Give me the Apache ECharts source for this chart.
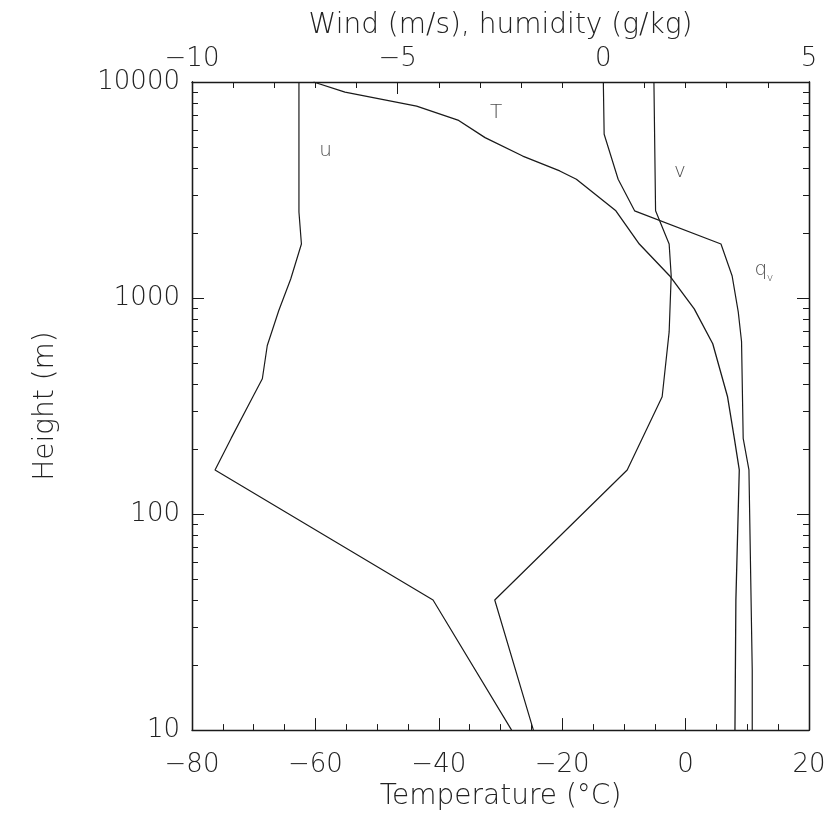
<!DOCTYPE html>
<html><head><meta charset="utf-8">
<script src="https://cdn.jsdelivr.net/npm/echarts@6/dist/echarts.min.js"></script>
<style>html,body{margin:0;padding:0;background:#fff}#c{width:831px;height:816px}</style>
</head><body><div id="c"></div>
<script>
// Temperature profile (bottom axis, °C)
const heightsT = [10000, 8970, 7730, 6665, 5525, 4543, 3874, 3548, 2533, 1778, 1269, 891, 614, 349, 224, 160, 40, 10];
const temperature = [-60.3, -55.2, -43.6, -36.9, -32.5, -26.4, -20.4, -17.7, -11.3, -7.5, -2.6, 1.4, 4.4, 6.8, 7.9, 8.7, 8.15, 8.0];
// Wind u (top axis, m/s)
const heightsU = [10000, 2500, 1778, 1225, 875, 603, 423, 349, 224, 160, 40, 10];
const windU = [-7.40, -7.40, -7.34, -7.60, -7.89, -8.17, -8.29, -8.52, -9.05, -9.44, -4.14, -2.23];
// Wind v (top axis, m/s)
const heightsV = [10000, 2533, 1778, 1269, 697, 349, 160, 40, 10];
const windV = [1.23, 1.27, 1.60, 1.65, 1.60, 1.43, 0.58, -2.64, -1.70];
// Humidity q_v (top axis, g/kg)
const heightsQ = [10000, 5728, 3548, 2533, 1778, 1269, 863, 629, 224, 160, 19, 10];
const humidityQ = [0.0, 0.02, 0.36, 0.76, 2.86, 3.13, 3.28, 3.36, 3.40, 3.54, 3.62, 3.62];

// Axis ticks
const yMajorTicks = [10, 100, 1000, 10000];
const yMinorTicks = [20,30,40,50,60,70,80,90,200,300,400,500,600,700,800,900,2000,3000,4000,5000,6000,7000,8000,9000];

// Curve labels [x, height, text]
const labelsTop = [[-6.75, 4795, 'u'], [1.86, 3822, 'v'], [3.83, 1353, 'q']];
const labelsTopSub = [[4.05, 1240, 'v']];
const labelsBottom = [[-30.7, 7210, 'T']];

const FONT = 'DejaVu Sans';
const TXT = '#222';
const LINE = '#1a1a1a';
const minus = v => (v < 0 ? '\u2212' + Math.abs(v) : String(v));
const pairs = (xs, ys) => xs.map((x, i) => [x, ys[i]]);

const yBase = {
  type: 'log', logBase: 10, min: 10, max: 10000,
  splitLine: { show: false },
  axisLine: { show: true, onZero: false, lineStyle: { color: LINE, width: 1.3 } }
};
const chart = echarts.init(document.getElementById('c'), null, { renderer: 'canvas' });
chart.setOption({
  backgroundColor: '#fff',
  animation: false,
  grid: { left: 192, right: 22, top: 82, bottom: 84 },
  xAxis: [
    {
      type: 'value', position: 'bottom', min: -80, max: 20, interval: 20,
      splitLine: { show: false },
      axisLine: { show: true, onZero: false, lineStyle: { color: LINE, width: 1.3 } },
      axisTick: { inside: true, length: 12, lineStyle: { color: LINE } },
      minorTick: { show: true, splitNumber: 4, length: 6, lineStyle: { color: LINE } },
      axisLabel: { formatter: minus, fontFamily: FONT, fontWeight: 200, fontSize: 26, color: TXT, margin: 22 },
      name: 'Temperature (°C)', nameLocation: 'middle', nameGap: 50,
      nameTextStyle: { fontFamily: FONT, fontWeight: 200, fontSize: 28, color: TXT }
    },
    {
      type: 'value', position: 'top', min: -10, max: 5, interval: 5,
      splitLine: { show: false },
      axisLine: { show: true, onZero: false, lineStyle: { color: LINE, width: 1.3 } },
      axisTick: { inside: true, length: 12, lineStyle: { color: LINE } },
      minorTick: { show: true, splitNumber: 5, length: 6, lineStyle: { color: LINE } },
      axisLabel: { formatter: minus, fontFamily: FONT, fontWeight: 200, fontSize: 26, color: TXT, margin: 10 },
      name: 'Wind (m/s), humidity (g/kg)', nameLocation: 'middle', nameGap: 42,
      nameTextStyle: { fontFamily: FONT, fontWeight: 200, fontSize: 28, color: TXT }
    }
  ],
  yAxis: [
    Object.assign({}, yBase, {
      position: 'left',
      axisTick: { inside: true, length: 12, customValues: yMajorTicks, lineStyle: { color: LINE } },
      axisLabel: { customValues: yMajorTicks, formatter: v => String(Math.round(v)), fontFamily: FONT, fontWeight: 200, fontSize: 26, color: TXT, margin: 12 },
      name: 'Height (m)', nameLocation: 'middle', nameGap: 132, nameRotate: 90,
      nameTextStyle: { fontFamily: FONT, fontWeight: 200, fontSize: 28, color: TXT }
    }),
    Object.assign({}, yBase, {
      position: 'left',
      axisTick: { inside: true, length: 6, customValues: yMinorTicks, lineStyle: { color: LINE } },
      axisLabel: { show: false }
    }),
    Object.assign({}, yBase, {
      position: 'right',
      axisTick: { inside: true, length: 12, customValues: yMajorTicks, lineStyle: { color: LINE } },
      axisLabel: { show: false }
    }),
    Object.assign({}, yBase, {
      position: 'right',
      axisTick: { inside: true, length: 6, customValues: yMinorTicks, lineStyle: { color: LINE } },
      axisLabel: { show: false }
    })
  ],
  series: [
    { name: 'T', type: 'line', xAxisIndex: 0, yAxisIndex: 0, data: pairs(temperature, heightsT), showSymbol: false, lineStyle: { color: LINE, width: 1.3 } },
    { name: 'u', type: 'line', xAxisIndex: 1, yAxisIndex: 0, data: pairs(windU, heightsU), showSymbol: false, lineStyle: { color: LINE, width: 1.2 } },
    { name: 'v', type: 'line', xAxisIndex: 1, yAxisIndex: 0, data: pairs(windV, heightsV), showSymbol: false, lineStyle: { color: LINE, width: 1.2 } },
    { name: 'q_v', type: 'line', xAxisIndex: 1, yAxisIndex: 0, data: pairs(humidityQ, heightsQ), showSymbol: false, lineStyle: { color: LINE, width: 1.2 } },
    { type: 'scatter', xAxisIndex: 1, yAxisIndex: 0, symbolSize: 0, silent: true,
      data: labelsTop.map(d => ({ value: [d[0], d[1]], name: d[2] })),
      label: { show: true, position: 'inside', formatter: p => p.name, fontFamily: FONT, fontWeight: 200, fontSize: 20, color: TXT } },
    { type: 'scatter', xAxisIndex: 1, yAxisIndex: 0, symbolSize: 0, silent: true,
      data: labelsTopSub.map(d => ({ value: [d[0], d[1]], name: d[2] })),
      label: { show: true, position: 'inside', formatter: p => p.name, fontFamily: FONT, fontWeight: 200, fontSize: 11, color: TXT } },
    { type: 'scatter', xAxisIndex: 0, yAxisIndex: 0, symbolSize: 0, silent: true,
      data: labelsBottom.map(d => ({ value: [d[0], d[1]], name: d[2] })),
      label: { show: true, position: 'inside', formatter: p => p.name, fontFamily: FONT, fontWeight: 200, fontSize: 20, color: TXT } }
  ]
});
</script></body></html>
